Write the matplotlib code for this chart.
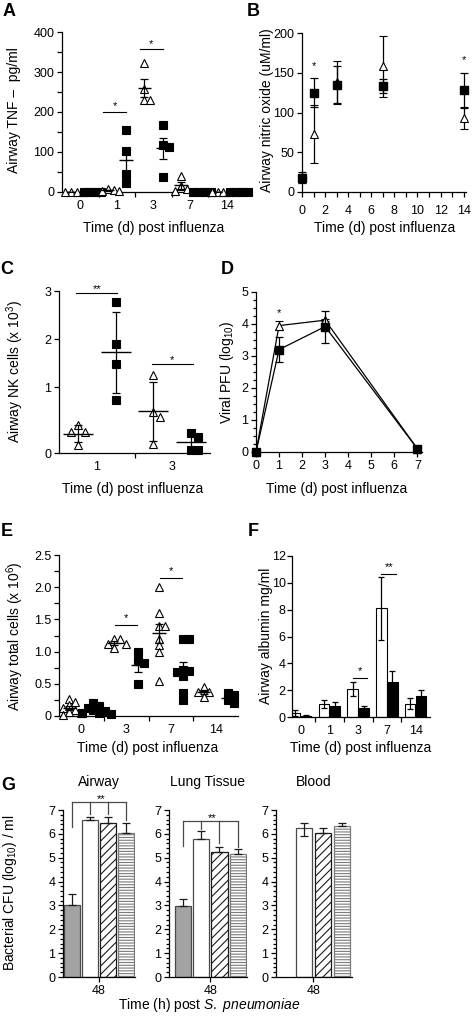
import matplotlib
matplotlib.use('Agg')
import matplotlib.pyplot as plt
import numpy as np
from matplotlib.ticker import MultipleLocator, FixedLocator, FuncFormatter

plt.rcParams['font.family'] = ['Liberation Sans', 'DejaVu Sans']
plt.rcParams['font.size'] = 9
plt.rcParams['mathtext.fontset'] = 'custom'
plt.rcParams['mathtext.rm'] = 'Liberation Sans'
plt.rcParams['mathtext.it'] = 'Liberation Sans:italic'
plt.rcParams['axes.linewidth'] = 0.9
plt.rcParams['hatch.linewidth'] = 0.8

# ---- data ----
# A: airway TNF (pg/ml), triangles vs squares per day
a_days = ['0', '1', '3', '7', '14']
a_tri = [[0, 0, 0, 0], [8, 5, 3, 2], [322, 258, 230, 230], [40, 15, 8, 3], [0, 0, 0, 0]]
a_sq = [[0, 0, 0, 0], [155, 102, 45, 22], [168, 118, 113, 38], [0, 0, 0, 0], [0, 0, 0, 0]]
a_sig = [(1, 200, '*'), (2, 357, '*')]

# B: airway nitric oxide (mean, error)
b_days = [0, 1, 3, 7, 14]
b_tri_mean = [18, 73, 138, 158, 93]
b_tri_err = [5, 36, 27, 38, 14]
b_sq_mean = [18, 125, 135, 133, 128]
b_sq_err = [7, 18, 23, 9, 22]
b_sig = [(1, 158, '*'), (14, 166, '*')]

# C: airway NK cells (x10^3)
c_days = ['1', '3']
c_tri = [[0.42, 0.32, 0.32, 0.12], [1.25, 0.62, 0.55, 0.14]]
c_sq = [[2.78, 1.9, 1.47, 0.8], [0.3, 0.25, 0.05, 0.05]]
c_sig = [(0, 2.95, '**'), (1, 1.48, '*')]

# D: viral PFU (log10)
d_days = [0, 1, 3, 7]
d_tri_mean = [0, 3.95, 4.12, 0.1]
d_tri_err = [0, 0.15, 0.03, 0.1]
d_sq_mean = [0, 3.2, 3.92, 0.1]
d_sq_err = [0, 0.4, 0.5, 0.1]
d_sig = [(1, 4.35, '*')]

# E: airway total cells (x10^6)
e_days = ['0', '3', '7', '14']
e_tri = [[0.27, 0.22, 0.17, 0.13, 0.1, 0.06, 0.04, 0.02],
         [1.2, 1.2, 1.12, 1.05, 1.12],
         [2.0, 1.6, 1.4, 1.4, 1.2, 1.1, 1.0, 0.55],
         [0.45, 0.38, 0.38, 0.3]]
e_sq = [[0.2, 0.16, 0.12, 0.1, 0.08, 0.05, 0.04, 0.03],
        [1.0, 0.85, 0.82, 0.5],
        [1.2, 1.2, 0.72, 0.7, 0.68, 0.62, 0.35, 0.25],
        [0.35, 0.33, 0.25, 0.2]]
e_sig = [(1, 1.42, '*'), (2, 2.15, '*')]

# F: airway albumin mg/ml
f_days = ['0', '1', '3', '7', '14']
f_white = [0.3, 1.0, 2.1, 8.1, 1.0]
f_white_err = [0.2, 0.3, 0.5, 2.35, 0.4]
f_black = [0.1, 0.8, 0.7, 2.6, 1.6]
f_black_err = [0.05, 0.35, 0.15, 0.8, 0.4]
f_sig = [(2, 2.9, '*'), (3, 10.65, '**')]

# G: bacterial CFU at 48 h, four groups per compartment
g_titles = ['Airway', 'Lung Tissue', 'Blood']
g_means = [[3.0, 6.6, 6.45, 6.05], [2.98, 5.8, 5.25, 5.17], [np.nan, 6.25, 6.05, 6.35]]
g_err_lo = [[0, 0, 0, 0], [0, 0, 0, 0], [0, 0.35, 0, 0]]
g_err_hi = [[0.5, 0.1, 0.25, 0.42], [0.3, 0.3, 0.22, 0.2], [0, 0.22, 0.18, 0.12]]
g_brackets = [(7.35, [6.3, 6.85, 6.85, 6.6]), (6.55, [5.5, 6.2, 5.6, 5.45]), None]

W, H = 474, 1018
LAB = 10
fig = plt.figure(figsize=(W / 100, H / 100), dpi=100)


def new_ax(left, right, top, bottom):
    ax = fig.add_axes([left / W, 1 - bottom / H, (right - left) / W, (bottom - top) / H])
    ax.spines['top'].set_visible(False)
    ax.spines['right'].set_visible(False)
    ax.tick_params(which='both', labelsize=9, length=3.5, width=0.9, pad=2)
    return ax


def ftext(px, py, s, **kw):
    fig.text(px / W, 1 - py / H, s, ha='center', va='center', **kw)


def swarm(vals, ytol, step):
    placed, offs = [], []
    for v in vals:
        k = 0
        while True:
            cands = [0.0] if k == 0 else [k * step, -k * step]
            ok = None
            for c in cands:
                if all(abs(c - px) > step * 0.9 or abs(v - py) > ytol for px, py in placed):
                    ok = c
                    break
            if ok is not None:
                break
            k += 1
        placed.append((ok, v))
        offs.append(ok)
    return np.array(offs)


def sem(v):
    return np.std(v, ddof=1) / np.sqrt(len(v))


def sd(v):
    return np.std(v, ddof=1)


def scatter_groups(ax, tri, sq, err_fn, step, half, ytol, off):
    for i, (t, s) in enumerate(zip(tri, sq)):
        for vals, o, mk, fc in ((t, -off, '^', 'white'), (s, off, 's', 'black')):
            vals = np.array(vals, float)
            xs = i + o + swarm(vals, ytol, step)
            ax.plot(xs, vals, ls='none', marker=mk, ms=6, mfc=fc, mec='black',
                    mew=0.8, zorder=3, clip_on=False)
            m = vals.mean()
            ax.hlines(m, i + o - half, i + o + half, color='black', lw=1, zorder=4)
            ax.errorbar(i + o, m, yerr=err_fn(vals), fmt='none', ecolor='black',
                        elinewidth=0.9, capsize=3, capthick=0.9, zorder=4)


def cat_ticks(ax, labels):
    n = len(labels)
    ax.set_xticks(range(n))
    ax.set_xticklabels(labels)
    ax.tick_params(axis='x', which='major', length=0, pad=6)
    ax.xaxis.set_minor_locator(FixedLocator(np.arange(0.5, n - 1, 1.0)))


def sig(ax, x0, x1, y, s, gap):
    ax.plot([x0, x1], [y, y], color='black', lw=0.8, clip_on=False)
    ax.text((x0 + x1) / 2, y + gap, s, ha='center', va='center', fontsize=8)


# ---------------- A ----------------
axA = new_ax(62, 245, 32, 192)
scatter_groups(axA, a_tri, a_sq, sem, step=0.16, half=0.18, ytol=17, off=0.25)
axA.set_xlim(-0.5, 4.5)
axA.set_ylim(0, 400)
cat_ticks(axA, a_days)
axA.yaxis.set_major_locator(MultipleLocator(100))
axA.yaxis.set_minor_locator(MultipleLocator(50))
for x, y, s in a_sig:
    sig(axA, x - 0.38, x + 0.25, y, s, 14)
ftext(14, 110, 'Airway TNF –  pg/ml', rotation=90, fontsize=LAB)
ftext(154, 228, 'Time (d) post influenza', fontsize=LAB)
ftext(9, 12, 'A', fontsize=13, fontweight='bold')

# ---------------- B ----------------
axB = new_ax(302, 466, 33, 192)
axB.errorbar(b_days, b_tri_mean, yerr=b_tri_err, fmt='^', ms=6, mfc='white', mec='black',
             mew=0.8, ecolor='black', elinewidth=0.9, capsize=3, capthick=0.9, zorder=3,
             clip_on=False)
axB.errorbar(b_days, b_sq_mean, yerr=b_sq_err, fmt='s', ms=6, mfc='black', mec='black',
             ecolor='black', elinewidth=0.9, capsize=3, capthick=0.9, zorder=4, clip_on=False)
axB.set_xlim(0, 14.2)
axB.set_ylim(0, 200)
axB.xaxis.set_major_locator(MultipleLocator(2))
axB.xaxis.set_minor_locator(MultipleLocator(1))
axB.yaxis.set_major_locator(MultipleLocator(50))
axB.tick_params(axis='x', pad=6)
for x, y, s in b_sig:
    axB.text(x, y, s, ha='center', va='center', fontsize=8)
ftext(267, 110, 'Airway nitric oxide (uM/ml)', rotation=90, fontsize=LAB)
ftext(385, 228, 'Time (d) post influenza', fontsize=LAB)
ftext(253, 12, 'B', fontsize=13, fontweight='bold')


# ---------------- C ----------------
def c_fwd(y):
    y = np.asarray(y, float)
    return np.where(y < 1, y * 1.375, y + 0.375)


def c_inv(y):
    y = np.asarray(y, float)
    return np.where(y < 1.375, y / 1.375, y - 0.375)


axC = new_ax(59, 210, 291, 453)
axC.set_yscale('function', functions=(c_fwd, c_inv))
scatter_groups(axC, c_tri, c_sq, sd, step=0.09, half=0.2, ytol=0.1, off=0.25)
axC.set_xlim(-0.5, 1.5)
axC.set_ylim(0, 3)
cat_ticks(axC, c_days)
axC.yaxis.set_major_locator(FixedLocator([0, 1, 2, 3]))
axC.yaxis.set_minor_locator(FixedLocator([]))
axC.yaxis.set_major_formatter(FuncFormatter(lambda v, p: '%d' % v))
for x, y, s in c_sig:
    sig(axC, x - 0.27, x + 0.27, y, s, 0.08)
ftext(15, 372, 'Airway NK cells (x 10$^3$)', rotation=90, fontsize=LAB)
ftext(133, 489, 'Time (d) post influenza', fontsize=LAB)
ftext(7, 270, 'C', fontsize=13, fontweight='bold')

# ---------------- D ----------------
axD = new_ax(256, 422, 292, 452)
axD.errorbar(d_days, d_tri_mean, yerr=d_tri_err, fmt='-^', color='black', lw=0.9, ms=6,
             mfc='white', mec='black', mew=0.8, elinewidth=0.9, capsize=3, capthick=0.9,
             zorder=3, clip_on=False)
axD.errorbar(d_days, d_sq_mean, yerr=d_sq_err, fmt='-s', color='black', lw=0.9, ms=6,
             mfc='black', mec='black', elinewidth=0.9, capsize=3, capthick=0.9, zorder=4,
             clip_on=False)
axD.set_xlim(0, 7.2)
axD.set_ylim(0, 5)
axD.xaxis.set_major_locator(MultipleLocator(1))
axD.yaxis.set_major_locator(MultipleLocator(1))
axD.yaxis.set_minor_locator(MultipleLocator(0.25))
axD.tick_params(axis='y', which='minor', length=2)
for x, y, s in d_sig:
    axD.text(x, y, s, ha='center', va='center', fontsize=8)
ftext(227, 372, 'Viral PFU (log$_{10}$)', rotation=90, fontsize=LAB)
ftext(337, 489, 'Time (d) post influenza', fontsize=LAB)
ftext(227, 270, 'D', fontsize=13, fontweight='bold')

# ---------------- E ----------------
axE = new_ax(59, 238, 555, 716)
scatter_groups(axE, e_tri, e_sq, sem, step=0.13, half=0.15, ytol=0.09, off=0.27)
axE.set_xlim(-0.5, 3.5)
axE.set_ylim(0, 2.5)
cat_ticks(axE, e_days)
axE.yaxis.set_major_locator(MultipleLocator(0.5))
axE.yaxis.set_minor_locator(MultipleLocator(0.25))
axE.yaxis.set_major_formatter(FuncFormatter(lambda v, p: '0' if v == 0 else '%.1f' % v))
for x, y, s in e_sig:
    sig(axE, x - 0.25, x + 0.25, y, s, 0.1)
ftext(15, 636, 'Airway total cells (x 10$^6$)', rotation=90, fontsize=LAB)
ftext(148, 748, 'Time (d) post influenza', fontsize=LAB)
ftext(7, 531, 'E', fontsize=13, fontweight='bold')

# ---------------- F ----------------
axF = new_ax(292, 430, 556, 717)
fx = np.arange(len(f_days))
axF.bar(fx - 0.19, f_white, width=0.36, color='white', edgecolor='black', lw=0.8,
        yerr=f_white_err, error_kw=dict(elinewidth=0.9, capsize=2.5, capthick=0.9))
axF.bar(fx + 0.19, f_black, width=0.36, color='black', edgecolor='black', lw=0.8,
        yerr=f_black_err, error_kw=dict(elinewidth=0.9, capsize=2.5, capthick=0.9))
axF.set_xlim(-0.3, 4.5)
axF.set_ylim(0, 12)
cat_ticks(axF, f_days)
axF.yaxis.set_major_locator(MultipleLocator(2))
axF.tick_params(axis='y', pad=1)
for x, y, s in f_sig:
    sig(axF, x - 0.19, x + 0.32, y, s, 0.5)
ftext(266, 636, 'Airway albumin mg/ml', rotation=90, fontsize=LAB)
ftext(361, 748, 'Time (d) post influenza', fontsize=LAB)
ftext(253, 531, 'F', fontsize=13, fontweight='bold')

# ---------------- G ----------------
g_styles = [dict(color='#a3a3a3', edgecolor='#4a4a4a'),
            dict(color='white', edgecolor='#4a4a4a'),
            dict(color='white', edgecolor='#1a1a1a', hatch='////'),
            dict(color='white', edgecolor='#7a7a7a', hatch='------')]
g_boxes = [(63, 135, -0.5, 3.5), (169, 247, -0.75, 3.5), (276, 352, -0.47, 3.53)]
for k, (left, right, x0, x1) in enumerate(g_boxes):
    ax = new_ax(left, right, 810, 977)
    for j in range(4):
        m = g_means[k][j]
        if np.isnan(m):
            continue
        ax.bar(j, m, width=0.88, lw=0.9, **g_styles[j])
        ax.errorbar(j, m, yerr=[[g_err_lo[k][j]], [g_err_hi[k][j]]], fmt='none',
                    ecolor='#1a1a1a', elinewidth=0.9, capsize=3, capthick=0.9)
    ax.set_xlim(x0, x1)
    ax.set_ylim(0, 7)
    ax.set_xticks([1.5])
    ax.set_xticklabels(['48'])
    ax.yaxis.set_major_locator(MultipleLocator(1))
    ax.yaxis.set_minor_locator(MultipleLocator(0.2))
    ax.tick_params(axis='y', which='minor', length=2)
    ax.set_title(g_titles[k], fontsize=LAB, pad=17)
    if g_brackets[k] is not None:
        top, drops = g_brackets[k]
        ax.plot([0, 3], [top, top], color='#4a4a4a', lw=0.9, clip_on=False)
        for j, d in enumerate(drops):
            ax.plot([j, j], [d, top], color='#4a4a4a', lw=0.9, clip_on=False)
        ax.text(1.6, top + 0.12, '**', ha='center', va='center', fontsize=8)
ftext(10, 893, 'Bacterial CFU (log$_{10}$) / ml', rotation=90, fontsize=LAB)
ftext(209, 1005, 'Time (h) post $\\it{S.\\ pneumoniae}$', fontsize=LAB)
ftext(8, 786, 'G', fontsize=13, fontweight='bold')

fig.savefig('out.png', dpi=100)
